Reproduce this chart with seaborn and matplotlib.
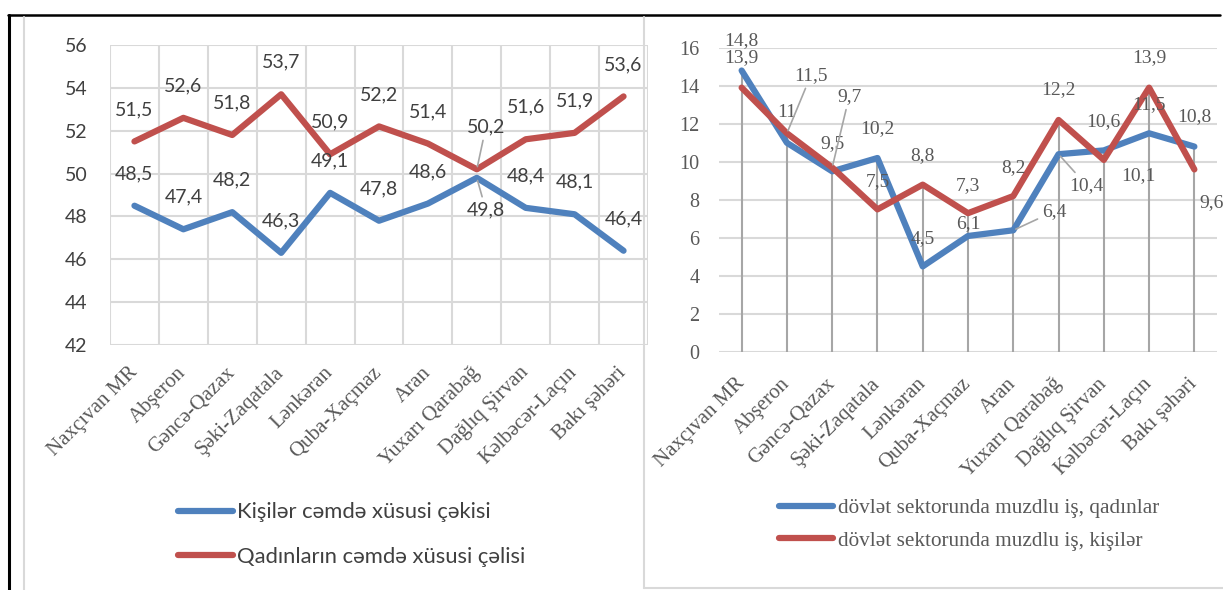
import numpy as np
import pandas as pd
import matplotlib
matplotlib.use("Agg")
import matplotlib.pyplot as plt
import seaborn as sns
from matplotlib.lines import Line2D

# data
regions = ["Naxçıvan MR", "Abşeron", "Gəncə-Qazax", "Şəki-Zaqatala", "Lənkəran",
           "Quba-Xaçmaz", "Aran", "Yuxarı Qarabağ", "Dağlıq Şirvan",
           "Kəlbəcər-Laçın", "Bakı şəhəri"]

men_share = [48.5, 47.4, 48.2, 46.3, 49.1, 47.8, 48.6, 49.8, 48.4, 48.1, 46.4]
women_share = [51.5, 52.6, 51.8, 53.7, 50.9, 52.2, 51.4, 50.2, 51.6, 51.9, 53.6]

public_women = [14.8, 11, 9.5, 10.2, 4.5, 6.1, 6.4, 10.4, 10.6, 11.5, 10.8]
public_men = [13.9, 11.5, 9.7, 7.5, 8.8, 7.3, 8.2, 12.2, 10.1, 13.9, 9.6]

left_names = ["Kişilər cəmdə xüsusi çəkisi", "Qadınların cəmdə xüsusi çəlisi"]
right_names = ["dövlət sektorunda muzdlu iş, qadınlar", "dövlət sektorunda muzdlu iş, kişilər"]

# label placement (pixel offsets from each point), styling only
men_off = [(0, 32)] * 7 + [(9, -32)] + [(0, 32)] * 3
women_off = [(0, 32)] * 7 + [(9, 42)] + [(0, 32)] * 3
pw_off = [(0, 30), (0, 30), (0, 28), (0, 29), (0, 28), (0, 12), (41, 19),
          (28, -31), (0, 29), (0, 29), (0, 30)]
pm_off = [(0, 30), (24, 58), (17, 71), (0, 28), (0, 29), (0, 28), (0, 28),
          (0, 30), (35, -16), (0, 30), (17, -33)]

BLUE = "#4F81BD"
RED = "#C0504D"
GRID = "#D9D9D9"
SANS = ["Lato", "DejaVu Sans"]
SERIF = ["Liberation Serif", "DejaVu Serif"]

sns.set_theme(style="white")
plt.rcParams["font.family"] = SANS

W, H = 1223, 590
fig = plt.figure(figsize=(W / 100, H / 100), dpi=100)
axL = fig.add_axes([110 / W, 1 - 345 / H, 538 / W, 300 / H])
axR = fig.add_axes([719 / W, 1 - 352 / H, 498 / W, 304.3 / H])

pos = np.arange(len(regions))

left = pd.DataFrame({"pos": pos, left_names[0]: men_share, left_names[1]: women_share})
left = left.melt("pos", var_name="series", value_name="value")
right = pd.DataFrame({"pos": pos, right_names[0]: public_women, right_names[1]: public_men})
right = right.melt("pos", var_name="series", value_name="value")

line_kw = dict(lw=4.5, solid_capstyle="round", solid_joinstyle="round", legend=False, sort=False)
sns.lineplot(data=left, x="pos", y="value", hue="series", palette=[BLUE, RED], ax=axL, zorder=3, **line_kw)
sns.lineplot(data=right, x="pos", y="value", hue="series", palette=[BLUE, RED], ax=axR, zorder=3, **line_kw)

# drop lines on the right panel
axR.vlines(pos, 0, np.maximum(public_women, public_men), color="#A6A6A6", lw=1.5, zorder=2)

# axes styling
for ax in (axL, axR):
    for s in ax.spines.values():
        s.set_visible(False)
    ax.set_xlabel("")
    ax.set_ylabel("")
    ax.set_xlim(-0.5, len(regions) - 0.5)
    ax.set_xticks(pos)
    ax.tick_params(length=0)

axL.tick_params(axis="y", pad=16)
axL.tick_params(axis="x", pad=18)
axR.tick_params(axis="y", pad=14)
axR.tick_params(axis="x", pad=21)

yl = np.arange(42, 57, 2)
axL.set_ylim(42, 56)
axL.set_yticks(yl)
axL.set_yticklabels([str(v) for v in yl], family=SANS, fontsize=14, color="#404040")
axL.set_xticks(np.arange(-0.5, len(regions), 1), minor=True)
axL.grid(which="minor", axis="x", color=GRID, lw=1.5)
axL.grid(which="major", axis="y", color=GRID, lw=1.5)
axL.set_xticklabels(regions, rotation=45, ha="right", va="center", rotation_mode="anchor",
                    family=SERIF, fontsize=15, color="#595959")

yr = np.arange(0, 17, 2)
axR.set_ylim(0, 16)
axR.set_yticks(yr)
axR.set_yticklabels([str(v) for v in yr], family=SERIF, fontsize=14.5, color="#595959")
axR.grid(which="major", axis="y", color=GRID, lw=1.5)
axR.set_xticklabels(regions, rotation=45, ha="right", va="center", rotation_mode="anchor",
                    family=SERIF, fontsize=15, color="#595959")


def put_labels(ax, values, offsets, fam, color, leaders):
    for i, (v, (dx, dy)) in enumerate(zip(values, offsets)):
        kw = {}
        if i in leaders:
            kw["arrowprops"] = dict(arrowstyle="-", color="#A6A6A6", lw=1.2, shrinkA=1, shrinkB=2)
        ax.annotate(f"{v:g}".replace(".", ","), (i, v), xytext=(dx, dy),
                    textcoords="offset pixels", ha="center", va="center",
                    family=fam, fontsize=14, color=color, zorder=4, **kw)


put_labels(axL, men_share, men_off, SANS, "#404040", {7})
put_labels(axL, women_share, women_off, SANS, "#404040", {7})
put_labels(axR, public_women, pw_off, SERIF, "#595959", {6, 7})
put_labels(axR, public_men, pm_off, SERIF, "#595959", {1, 2})

# legends
hL = [Line2D([], [], color=BLUE, lw=4.5, solid_capstyle="round"),
      Line2D([], [], color=RED, lw=4.5, solid_capstyle="round")]
fig.legend(hL, left_names, loc="center left", bbox_to_anchor=(178 / W, 1 - 534.5 / H),
           frameon=False, borderpad=0, borderaxespad=0, handlelength=2.5, handletextpad=0.17,
           labelspacing=1.11, prop=dict(family=SANS, size=15.8), labelcolor="#404040")
fig.legend(hL, right_names, loc="center left", bbox_to_anchor=(779 / W, 1 - 524.5 / H),
           frameon=False, borderpad=0, borderaxespad=0, handlelength=2.55, handletextpad=0.22,
           labelspacing=0.58, prop=dict(family=SERIF, size=15.3), labelcolor="#595959")

# frame lines
def fline(xs, ys, color, lw):
    fig.add_artist(Line2D([x / W for x in xs], [1 - y / H for y in ys], color=color, lw=lw,
                          transform=fig.transFigure))

fline([8, 1220], [15, 15], "black", 1.8)
fline([9, 9], [15, 590], "black", 2.2)
fline([24, 24], [17, 590], GRID, 1.5)
fline([644, 644], [17, 588], GRID, 1.5)
fline([644, 1223], [588, 588], GRID, 1.5)

fig.savefig("out.png", dpi=100)
